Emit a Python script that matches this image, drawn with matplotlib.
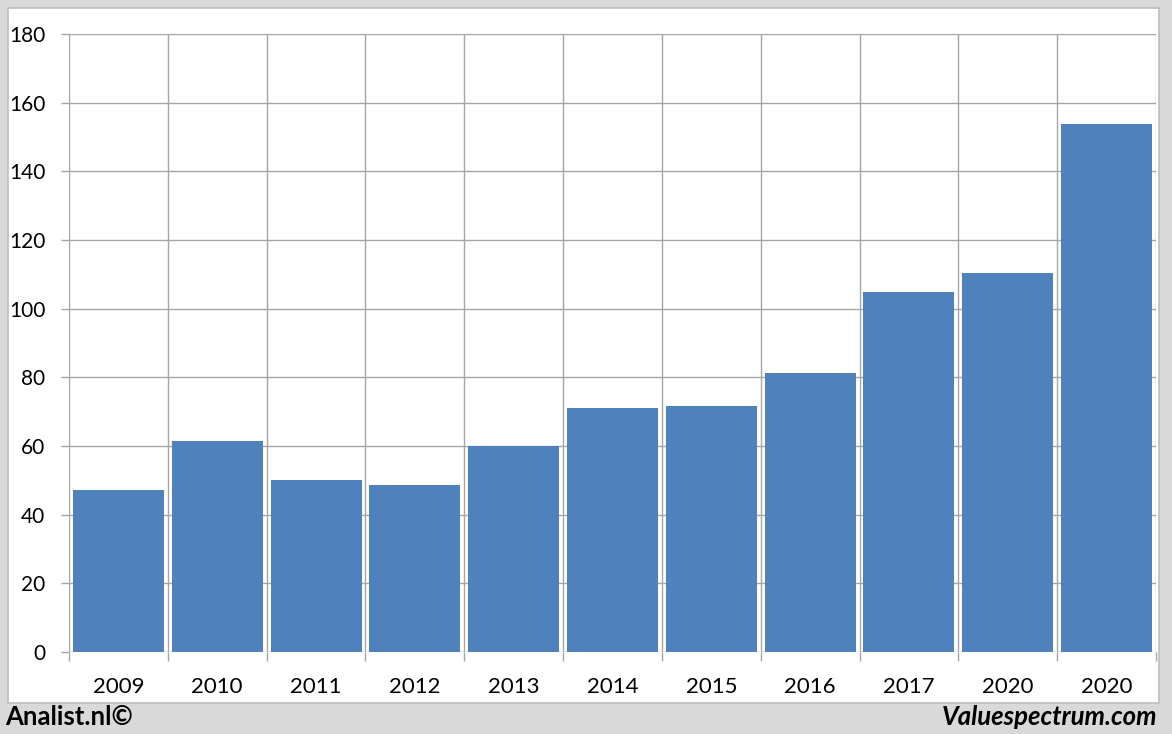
import matplotlib

matplotlib.use("Agg")
import matplotlib.pyplot as plt
import numpy as np
from matplotlib.patches import Rectangle

years = ["2009", "2010", "2011", "2012", "2013", "2014", "2015", "2016", "2017", "2020", "2020"]
values = [47.2, 61.5, 50.1, 48.6, 60.0, 71.1, 71.7, 81.3, 104.9, 110.4, 153.8]
y_ticks = [0, 20, 40, 60, 80, 100, 120, 140, 160, 180]

W, H = 1172, 734
plt.rcParams["font.family"] = ["Lato", "DejaVu Sans"]

fig = plt.figure(figsize=(W / 100, H / 100), dpi=100)
fig.patch.set_facecolor("#D9D9D9")

# white panel behind the chart (must sit under the axes)
fig.patches.append(
    Rectangle((8 / W, 1 - 703 / H), (1159 - 8) / W, (703 - 8) / H,
              transform=fig.transFigure, facecolor="white",
              edgecolor="#BDBDBD", linewidth=1.2, zorder=-5)
)

left, right, top, bottom = 69, 1156, 34, 652
ax = fig.add_axes([left / W, 1 - bottom / H, (right - left) / W, (bottom - top) / H])
ax.set_facecolor("none")
ax.set_zorder(2)

x = np.arange(len(years))
ax.bar(x, values, width=0.92, color="#4F81BD", zorder=3)

ax.set_xlim(-0.5, len(years) - 0.5)
ax.set_ylim(0, 180)
ax.set_yticks(y_ticks)
ax.set_xticks(x)
ax.set_xticklabels(years)
ax.set_xticks(np.arange(len(years) + 1) - 0.5, minor=True)

for s in ax.spines.values():
    s.set_visible(False)

grid_col = "#A6A6A6"
ax.grid(axis="y", which="major", color=grid_col, linewidth=1.0, zorder=0)
ax.grid(axis="x", which="minor", color=grid_col, linewidth=1.0, zorder=0)
ax.set_axisbelow(True)

ax.tick_params(axis="y", which="major", length=6, width=1.0, color=grid_col,
               pad=11, labelsize=15, labelcolor="black")
ax.tick_params(axis="x", which="major", length=0, pad=18, labelsize=16,
               labelcolor="black")
ax.tick_params(axis="x", which="minor", length=6.5, width=1.0, color=grid_col)

fig.text(5 / W, 1 - 717 / H, "Analist.nl©", fontsize=18.5, fontweight="bold",
         ha="left", va="center", color="black")
fig.text(1157 / W, 1 - 717 / H, "Valuespectrum.com", fontsize=18.5,
         fontweight="bold", fontstyle="italic", ha="right", va="center",
         color="black")

fig.savefig("out.png", dpi=100, facecolor=fig.get_facecolor())
